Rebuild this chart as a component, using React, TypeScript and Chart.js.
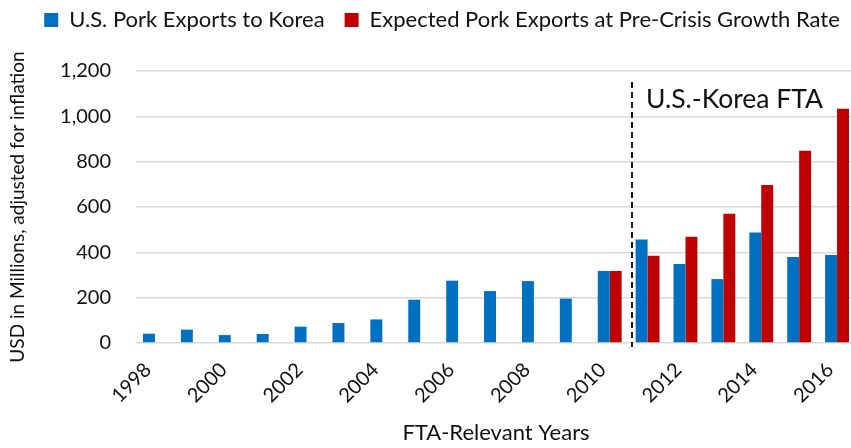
import React, { useEffect, useRef } from 'react';
import { Chart, registerables } from 'chart.js';

Chart.register(...registerables);

const years = ['1998', '1999', '2000', '2001', '2002', '2003', '2004', '2005', '2006', '2007', '2008', '2009', '2010', '2011', '2012', '2013', '2014', '2015', '2016'];
const xTickLabels = ['1998', '2000', '2002', '2004', '2006', '2008', '2010', '2012', '2014', '2016'];
const usPorkExports = [41, 59, 35, 40, 72, 88, 104, 191, 275, 229, 273, 196, 318, 457, 349, 282, 487, 379, 388];
const expectedExports = [null, null, null, null, null, null, null, null, null, null, null, null, 318, 385, 469, 570, 697, 848, 1034];
const seriesNames = ['U.S. Pork Exports to Korea', 'Expected Pork Exports at Pre-Crisis Growth Rate'];
const yAxisTitle = 'USD in Millions, adjusted for inflation';
const xAxisTitle = 'FTA-Relevant Years';
const ftaLabel = 'U.S.-Korea FTA';
const ftaPosition = 12.6;

const FONT = 'Lato';
const TEXT = '#111111';

const legendSpacing = {
  id: 'legendSpacing',
  beforeInit(chart: any) {
    const legend = chart.legend;
    if (!legend) return;
    const fit = legend.fit;
    legend.fit = function () {
      fit.call(this);
      this.height += 30;
    };
  },
};

const ftaPlugin = {
  id: 'ftaMarker',
  afterDatasetsDraw(chart: any) {
    const { ctx, chartArea, scales } = chart;
    const px = Math.round(scales.x.getPixelForValue(ftaPosition));
    ctx.save();
    ctx.strokeStyle = '#1a1a1a';
    ctx.lineWidth = 2;
    ctx.setLineDash([6, 4]);
    ctx.beginPath();
    ctx.moveTo(px, chartArea.top + 11);
    ctx.lineTo(px, chartArea.bottom + 4);
    ctx.stroke();
    ctx.setLineDash([]);
    ctx.fillStyle = TEXT;
    ctx.font = `26.5px ${FONT}`;
    ctx.textAlign = 'left';
    ctx.textBaseline = 'alphabetic';
    ctx.fillText(ftaLabel, px + 14, chartArea.top + 37);
    ctx.restore();
  },
};

export default function App() {
  const ref = useRef<HTMLCanvasElement | null>(null);

  useEffect(() => {
    document.body.style.margin = '0';
    document.body.style.overflow = 'hidden';
    const canvas = ref.current;
    if (!canvas) return;
    const chart = new Chart(canvas, {
      type: 'bar',
      data: {
        labels: years,
        datasets: [
          {
            label: seriesNames[0],
            data: usPorkExports,
            backgroundColor: '#0070C0',
            categoryPercentage: 0.63,
            barPercentage: 1,
          },
          {
            label: seriesNames[1],
            data: expectedExports as any,
            backgroundColor: '#C00000',
            categoryPercentage: 0.63,
            barPercentage: 1,
          },
        ],
      },
      options: {
        responsive: false,
        animation: false,
        devicePixelRatio: 1,
        layout: { padding: { top: -11, left: 0, right: 0, bottom: 0 } },
        plugins: {
          tooltip: { enabled: false },
          legend: {
            position: 'top',
            labels: {
              boxWidth: 14,
              boxHeight: 14,
              padding: 20,
              color: TEXT,
              font: { family: FONT, size: 22 },
            },
          },
        },
        scales: {
          x: {
            grid: { display: false, drawTicks: false },
            border: { display: false },
            ticks: {
              autoSkip: false,
              minRotation: 45,
              maxRotation: 45,
              padding: 15,
              labelOffset: -7,
              color: TEXT,
              font: { family: FONT, size: 20 },
              callback: (_v: any, i: number) => (xTickLabels.includes(years[i]) ? years[i] : ''),
            },
            title: {
              display: true,
              text: xAxisTitle,
              color: TEXT,
              font: { family: FONT, size: 22 },
              padding: { top: 0, bottom: 2 },
            },
            afterFit: (s: any) => {
              s.height = 105;
            },
          },
          y: {
            min: 0,
            max: 1200,
            grid: { color: '#d9d9d9', lineWidth: 1.5, drawTicks: false },
            border: { display: false },
            ticks: {
              stepSize: 200,
              padding: 25,
              color: TEXT,
              font: { family: FONT, size: 20 },
              callback: (v: any) => Number(v).toLocaleString('en-US'),
            },
            title: {
              display: true,
              text: yAxisTitle,
              color: TEXT,
              font: { family: FONT, size: 19 },
              padding: { top: 6, bottom: 0 },
            },
            afterFit: (s: any) => {
              s.width = 136;
            },
          },
          spacer: {
            type: 'linear',
            position: 'right',
            display: true,
            grid: { display: false, drawTicks: false },
            border: { display: false },
            ticks: { display: false },
            afterFit: (s: any) => {
              s.width = 28;
            },
          },
        },
      } as any,
      plugins: [legendSpacing, ftaPlugin],
    });
    return () => chart.destroy();
  }, []);

  return (
    <div style={{ width: 884, height: 448 }}>
      <canvas ref={ref} width={884} height={448} style={{ display: 'block' }} />
    </div>
  );
}
